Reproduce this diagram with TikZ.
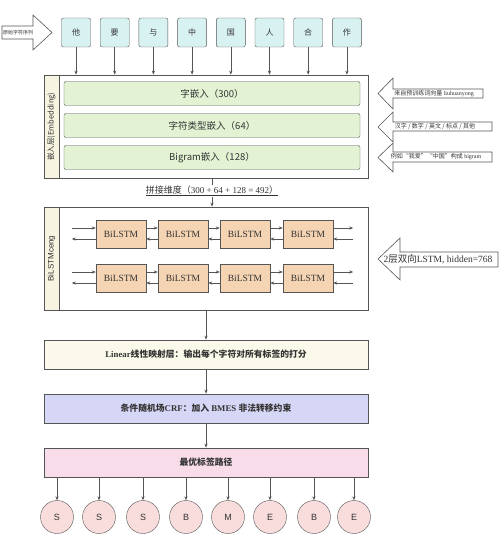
\documentclass[tikz,border=0pt]{standalone}
\usepackage{fontspec}
\setmainfont{Liberation Serif}
\setsansfont{Liberation Sans}
\newfontfamily\cjk{Noto Sans CJK SC}
\usetikzlibrary{arrows.meta,positioning}

\definecolor{charfill}{HTML}{D8F2F2}
\definecolor{embfill}{HTML}{E3F2D3}
\definecolor{stripfill}{HTML}{F7F5E1}
\definecolor{lstmfill}{HTML}{F5D4B3}
\definecolor{linfill}{HTML}{FBFAEA}
\definecolor{crffill}{HTML}{D6D6F6}
\definecolor{pathfill}{HTML}{F8DCEA}
\definecolor{tagfill}{HTML}{F9DCDC}
\definecolor{edge}{HTML}{555555}
\definecolor{txt}{HTML}{333333}

\tikzset{
  line/.style={draw=edge, line width=0.6pt},
  arr/.style={line, -{Stealth[length=4pt,width=3.2pt]}},
  charbox/.style={draw=edge, fill=charfill, rounded corners=2pt, minimum width=29pt,
    minimum height=29pt, text=txt, font=\cjk\fontsize{8}{9}\selectfont},
  frame/.style={draw=edge, line width=0.7pt, minimum width=324pt, minimum height=103pt},
  strip/.style={draw=edge, line width=0.7pt, fill=stripfill, minimum width=15pt,
    minimum height=103pt, text=txt},
  embbar/.style={draw=edge, fill=embfill, rounded corners=2pt, minimum width=296pt,
    minimum height=24pt, text=txt, font=\cjk\fontsize{9.5}{11}\selectfont},
  lstmbox/.style={draw=edge, fill=lstmfill, minimum width=50pt, minimum height=28pt,
    text=txt, font=\fontsize{9.5}{11}\selectfont},
  layerbox/.style={draw=edge, line width=0.7pt, minimum width=324pt, minimum height=29pt,
    text=txt, font=\bfseries\fontsize{8.8}{10}\selectfont},
  tag/.style={circle, draw=edge, fill=tagfill, minimum size=33pt, inner sep=0pt,
    text=txt, font=\sffamily\fontsize{9}{10}\selectfont},
  bigarrow/.style={draw=edge, fill=white, line width=0.6pt},
  note/.style={text=txt, inner sep=0pt},
}

\begin{document}
\begin{tikzpicture}[x=1pt, y=-1pt]
\useasboundingbox (0,0) rectangle (501,540);

% input characters
\foreach \ch [count=\i] in {他,要,与,中,国,人,合,作}
    \node [charbox] (c\i) at ({76+38.7*(\i-1)},32.5) {\ch};

\draw [bigarrow] (2,26) -- (33,26) -- (33,15) -- (52,32.5) -- (33,50) -- (33,39) -- (2,39) -- cycle;
\node [note, font=\cjk\fontsize{5}{6}\selectfont] (src) at (18,32.5) {原始字符序列};

% embedding layer
\node [frame] (emb) at (206,126.5) {};
\node [strip] (embs) at (51.5,126.5) {};
\node [note, rotate=90, font=\cjk\fontsize{7.5}{9}\selectfont] (embt) at (embs) {嵌入层(Embedding)};
\node [embbar] (e1) at (212,93.5) {字嵌入（300）};
\node [embbar] (e2) at (212,125.5) {字符类型嵌入（64）};
\node [embbar] (e3) at (212,157.5) {Bigram嵌入（128）};

\foreach \i in {1,...,8}
    \draw [arr] (c\i) -- (c\i |- emb.north);

% notes on the right
\draw [bigarrow] (483,89) -- (393,89) -- (393,78) -- (378,93.5) -- (393,109) -- (393,98) -- (483,98) -- cycle;
\node [note, font=\fontsize{6}{7}\selectfont] (n1) at (434,93.5) {{\cjk 来自预训练词向量} liuhuanyong};
\draw [bigarrow] (492,122) -- (393,122) -- (393,112) -- (378,127) -- (393,142) -- (393,131) -- (492,131) -- cycle;
\node [note, font=\cjk\fontsize{6}{7}\selectfont] (n2) at (435,126.5) {汉字 / 数字 / 英文 / 标点 / 其他};
\draw [bigarrow] (492,152) -- (393,152) -- (393,143) -- (378,157.5) -- (393,172) -- (393,162) -- (492,162) -- cycle;
\node [note, font=\fontsize{6}{7}\selectfont] (n3) at (436,157) {{\cjk 例如“我爱”“中国”构成} bigram};

% concatenation
\node [note, font=\fontsize{9}{10}\selectfont, fill=white, inner sep=1pt] (cat) at (212,191)
    {\underline{{\cjk 拼接维度（}300 + 64 + 128 = 492{\cjk ）}}};

% bilstm layer
\node [frame] (lstm) at (206,258.5) {};
\node [strip] (lstms) at (51.5,258.5) {};
\node [note, rotate=90, font=\sffamily\fontsize{8}{9}\selectfont] (lstmt) at (lstms) {BiLSTMceng};

\foreach \x [count=\i] in {121,183,245,308} {
    \node [lstmbox] (b1\i) at (\x,234) {BiLSTM};
    \node [lstmbox] (b2\i) at (\x,278) {BiLSTM};
}

\draw [line] (emb.south -| cat) -- (cat.north);
\draw [arr] (cat.south) -- (cat |- lstm.north);

\foreach \r in {1,2} {
    \draw [arr] ([xshift=-24pt,yshift=6pt]b\r1.west) -- ([yshift=6pt]b\r1.west);
    \draw [arr] ([yshift=-5pt]b\r1.west) -- ([xshift=-24pt,yshift=-5pt]b\r1.west);
    \draw [arr] ([yshift=6pt]b\r4.east) -- ([xshift=20pt,yshift=6pt]b\r4.east);
    \draw [arr] ([xshift=20pt,yshift=-5pt]b\r4.east) -- ([yshift=-5pt]b\r4.east);
    \foreach \a/\b in {1/2,2/3,3/4} {
        \draw [arr] ([yshift=6pt]b\r\a.east) -- ([yshift=6pt]b\r\b.west);
        \draw [arr] ([yshift=-5pt]b\r\b.west) -- ([yshift=-5pt]b\r\a.east);
    }
}

\draw [bigarrow] (498,252) -- (400,252) -- (400,238) -- (378,259) -- (400,280) -- (400,267) -- (498,267) -- cycle;
\node [note, font=\fontsize{9.5}{11}\selectfont] (n4) at (438,259.5) {2{\cjk 层双向}LSTM, hidden=768};

% output layers
\node [layerbox, fill=linfill] (lin) at (206,354.5) {Linear{\cjk 线性映射层：输出每个字符对所有标签的打分}};
\node [layerbox, fill=crffill] (crf) at (206,408.5) {{\cjk 条件随机场}CRF{\cjk ：加入} BMES {\cjk 非法转移约束}};
\node [layerbox, fill=pathfill] (path) at (206,462.5) {\cjk 最优标签路径};

\draw [arr] (lstm.south) -- (lin.north);
\draw [arr] (lin) -- (crf);
\draw [arr] (crf) -- (path);

% tags
\foreach \t/\x [count=\i] in {S/57,S/99,S/143,B/186,M/228,E/270,B/314,E/354} {
    \node [tag] (o\i) at (\x,517) {\t};
    \draw [arr] (o\i |- path.south) -- (o\i);
}

\end{tikzpicture}
\end{document}
